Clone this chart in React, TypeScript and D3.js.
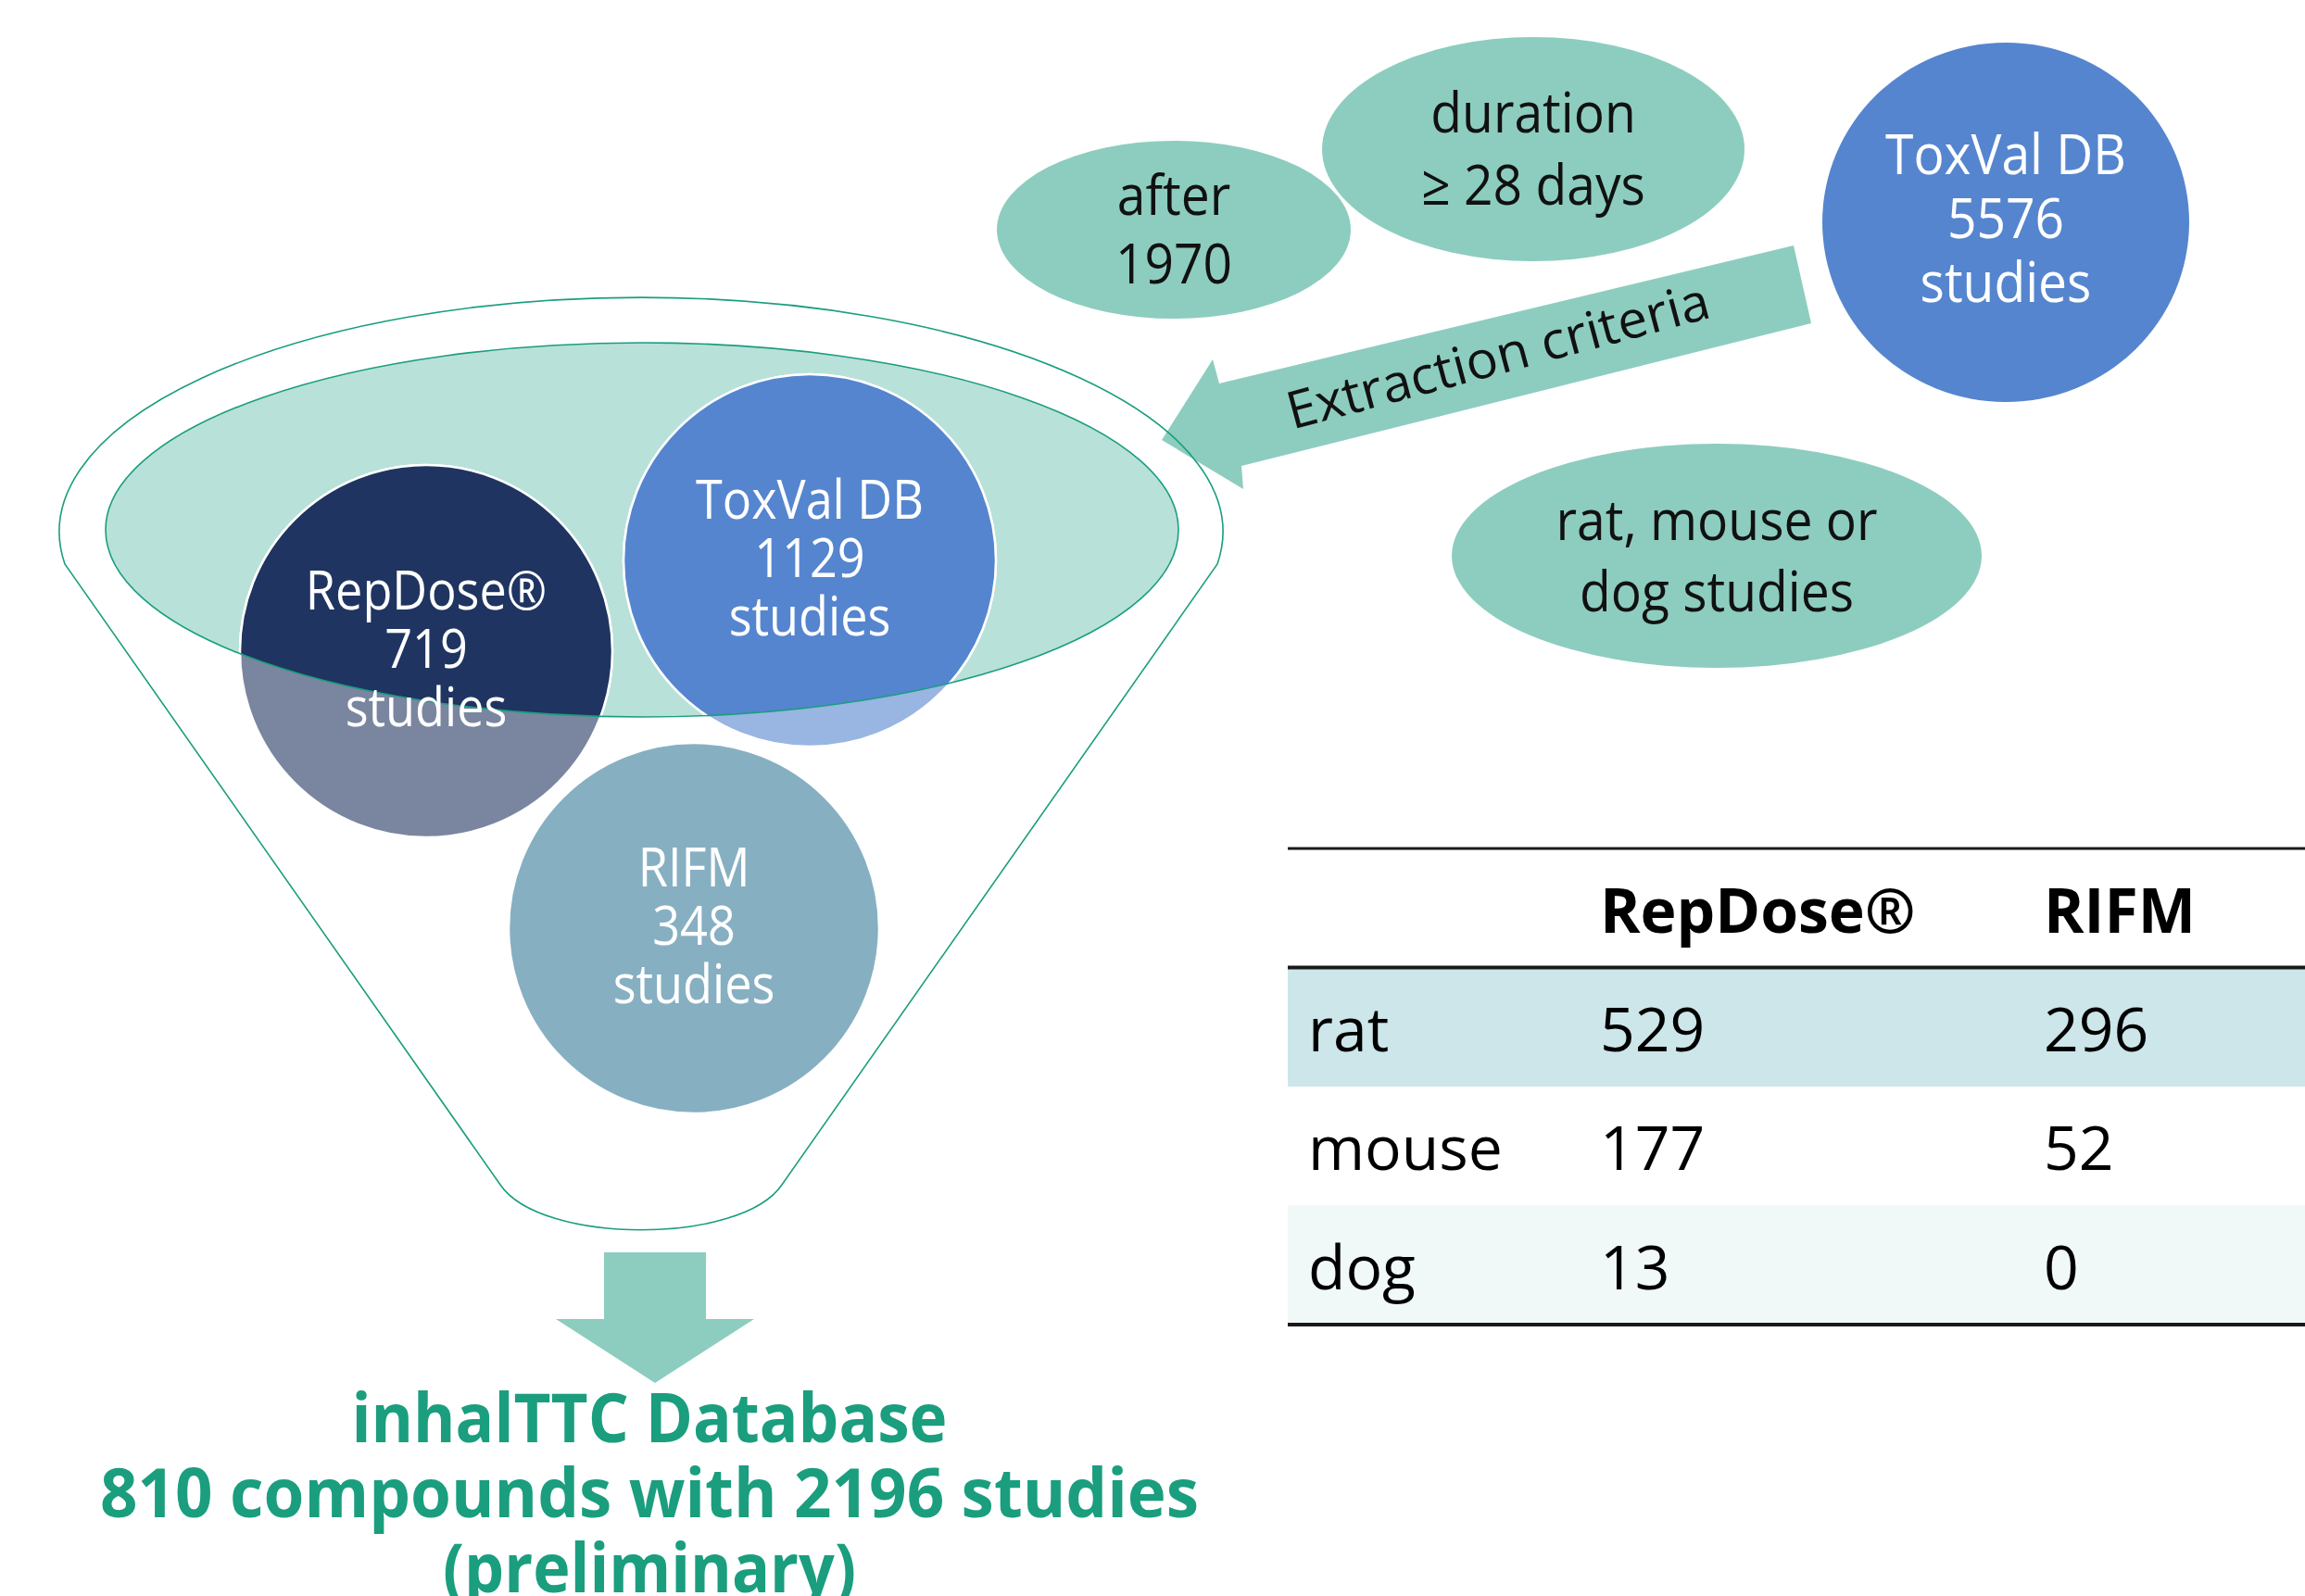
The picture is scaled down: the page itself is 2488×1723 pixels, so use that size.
import React from "react";
import * as d3 from "d3";

// source databases feeding the funnel
const sourceNames = ["RepDose®", "ToxVal DB", "RIFM"];
const sourceStudies = [719, 1129, 348];

// extraction criteria bubbles
const criteriaLines = [
  ["after", "1970"],
  ["duration", "≥ 28 days"],
  ["rat, mouse or", "dog studies"],
];
const toxvalTotal = 5576;
const arrowLabel = "Extraction criteria";

// species table
const tableColumns = ["RepDose®", "RIFM"];
const species = ["rat", "mouse", "dog"];
const repdoseBySpecies = [529, 177, 13];
const rifmBySpecies = [296, 52, 0];

// result
const resultLines = ["inhalTTC Database", "810 compounds with 2196 studies", "(preliminary)"];

const W = 2488;
const H = 1723;
const FONT = "'Open Sans', 'Noto Sans', sans-serif";

const TEAL = "#8DCDBF";
const TEAL_DARK = "#1A9E7E";
const INNER = { cx: 693, cy: 572, rx: 579, ry: 202 };

const sourceLayout = [
  { cx: 460, cy: 703, r: 201, fill: "#1F3461", faded: "#7A86A0" },
  { cx: 874, cy: 605, r: 201, fill: "#5585CF", faded: "#99B5E2" },
  { cx: 749, cy: 1002, r: 200, fill: "#87AFC2", faded: "#87AFC2" },
];

const criteriaLayout = [
  { cx: 1267, cy: 248, rx: 191, ry: 96, lh: 74 },
  { cx: 1655, cy: 161, rx: 228, ry: 121, lh: 78 },
  { cx: 1853, cy: 600, rx: 286, ry: 121, lh: 77 },
];

const Lines = ({ x, y, lines, lh, size, fill, sx = 0.9, weight = 400 }) => (
  <g>
    {lines.map((t, i) => (
      <text
        key={i}
        transform={`translate(${x},${y + (i - (lines.length - 1) / 2) * lh}) scale(${sx},1)`}
        textAnchor="middle"
        fontFamily={FONT}
        fontSize={size}
        fontWeight={weight}
        fill={fill}
      >
        {t}
      </text>
    ))}
  </g>
);

export default function App() {
  // funnel outline
  const funnel = d3.path();
  funnel.moveTo(70, 609);
  const funnelD =
    "M70,609 A628,253 0 1,1 1314,609 L844,1279 C800,1344 584,1344 540,1279 Z";

  const poly = d3.line();
  const extractArrow = poly([
    [1936, 265],
    [1955, 349],
    [1340, 503],
    [1342, 528],
    [1254, 475],
    [1309, 388],
    [1316, 414],
  ]) + "Z";
  const downArrow = poly([
    [652, 1352],
    [762, 1352],
    [762, 1424],
    [814, 1424],
    [707, 1493],
    [600, 1424],
    [652, 1424],
  ]) + "Z";

  // table scales
  const rowY = d3.scaleBand().domain(["head", ...species]).range([916, 1430]);
  const colX = d3.scaleOrdinal().domain(["label", ...tableColumns]).range([1412, 1727, 2206]);
  const rowFill = ["#CCE6EA", "#FFFFFF", "#F1F8F8"];
  const tableLeft = 1390;

  const resultWidths = [643, 1186, 446];

  return (
    <svg width={W} height={H} style={{ position: "absolute", left: 0, top: 0, background: "#fff" }}>
      <defs>
        <clipPath id="innerClip">
          <ellipse cx={INNER.cx} cy={INNER.cy} rx={INNER.rx} ry={INNER.ry} />
        </clipPath>
      </defs>

      {/* inner ellipse fill */}
      <ellipse cx={INNER.cx} cy={INNER.cy} rx={INNER.rx} ry={INNER.ry} fill="#B8E1D9" />

      {/* extraction arrow */}
      <path d={extractArrow} fill={TEAL} />
      <text
        transform="translate(1622,403) rotate(-15)"
        textAnchor="middle"
        fontFamily={FONT}
        fontSize={56}
        textLength={470}
        lengthAdjust="spacingAndGlyphs"
        fill="#111"
      >
        {arrowLabel}
      </text>

      {/* source circles */}
      {sourceLayout.map((c, i) => (
        <g key={i}>
          <circle cx={c.cx} cy={c.cy} r={c.r} fill={c.faded} stroke="#fff" strokeWidth={2.5} />
          <circle cx={c.cx} cy={c.cy} r={c.r} fill={c.fill} stroke="#fff" strokeWidth={2.5} clipPath="url(#innerClip)" />
        </g>
      ))}

      {/* inner ellipse stroke and funnel outline */}
      <ellipse cx={INNER.cx} cy={INNER.cy} rx={INNER.rx} ry={INNER.ry} fill="none" stroke={TEAL_DARK} strokeWidth={1.6} />
      <path d={funnelD} fill="none" stroke={TEAL_DARK} strokeWidth={1.6} />

      {sourceLayout.map((c, i) => (
        <Lines
          key={i}
          x={c.cx}
          y={c.cy + 18}
          lines={[sourceNames[i], String(sourceStudies[i]), "studies"]}
          lh={63}
          size={58}
          fill="#fff"
        />
      ))}

      {/* criteria bubbles */}
      {criteriaLayout.map((c, i) => (
        <g key={i}>
          <ellipse cx={c.cx} cy={c.cy} rx={c.rx} ry={c.ry} fill={TEAL} />
          <Lines x={c.cx} y={c.cy + 21} lines={criteriaLines[i]} lh={c.lh} size={60} fill="#111" sx={0.92} />
        </g>
      ))}

      {/* ToxVal DB full */}
      <ellipse cx={2165} cy={240} rx={198} ry={194} fill="#5585CF" />
      <Lines x={2165} y={257} lines={["ToxVal DB", String(toxvalTotal), "studies"]} lh={69} size={60} fill="#fff" sx={0.92} />

      {/* species table */}
      {species.map((s, i) => (
        <rect key={s} x={tableLeft} y={rowY(s)} width={W - tableLeft} height={rowY.bandwidth()} fill={rowFill[i]} />
      ))}
      <line x1={tableLeft} x2={W} y1={rowY("head")} y2={rowY("head")} stroke="#1a1a1a" strokeWidth={3} />
      <line x1={tableLeft} x2={W} y1={rowY("rat")} y2={rowY("rat")} stroke="#1a1a1a" strokeWidth={4} />
      <line x1={tableLeft} x2={W} y1={1430} y2={1430} stroke="#1a1a1a" strokeWidth={4} />
      {tableColumns.map((c) => (
        <text key={c} x={colX(c)} y={rowY("head") + 91} fontFamily={FONT} fontSize={66} fontWeight={700} fill="#000">
          {c}
        </text>
      ))}
      {species.map((s, i) => (
        <g key={s}>
          <text x={colX("label")} y={rowY(s) + 90} fontFamily={FONT} fontSize={66} fill="#000">{s}</text>
          <text x={colX("RepDose®")} y={rowY(s) + 90} fontFamily={FONT} fontSize={66} fill="#000">{repdoseBySpecies[i]}</text>
          <text x={colX("RIFM")} y={rowY(s) + 90} fontFamily={FONT} fontSize={66} fill="#000">{rifmBySpecies[i]}</text>
        </g>
      ))}

      {/* result */}
      <path d={downArrow} fill={TEAL} />
      {resultLines.map((t, i) => (
        <text
          key={i}
          x={701}
          y={1557 + i * 81}
          textAnchor="middle"
          fontFamily={FONT}
          fontSize={74}
          fontWeight={700}
          fill={TEAL_DARK}
          textLength={resultWidths[i]}
          lengthAdjust="spacingAndGlyphs"
        >
          {t}
        </text>
      ))}
    </svg>
  );
}
